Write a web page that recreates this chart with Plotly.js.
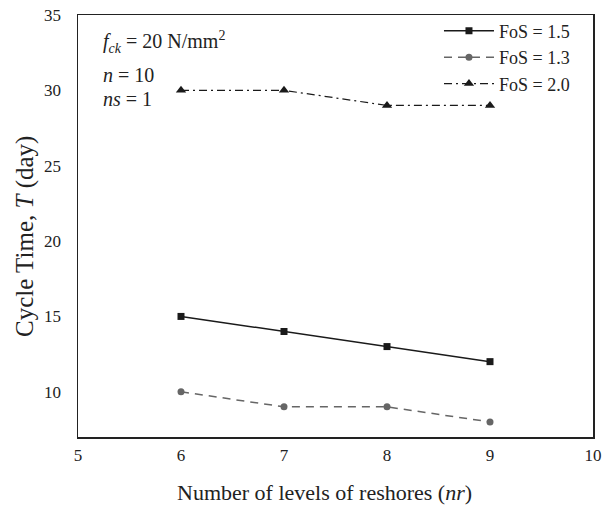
<!DOCTYPE html>
<html>
<head>
<meta charset="utf-8">
<script src="https://cdn.plot.ly/plotly-3.0.1.min.js"></script>
<style>html,body{margin:0;padding:0;background:#fff;}#chart{width:602px;height:513px;}</style>
</head>
<body>
<div id="chart"></div>
<script>
const levels = [6, 7, 8, 9];
const fos15 = [15, 14, 13, 12];
const fos13 = [10, 9, 9, 8];
const fos20 = [30, 30, 29, 29];
const seriesNames = ["FoS = 1.5", "FoS = 1.3", "FoS = 2.0"];

const font = "Liberation Serif, Times New Roman, serif";
const traces = [
  {x: levels, y: fos15, name: seriesNames[0], mode: "lines+markers",
   line: {color: "#1a1a1a", width: 1.5, dash: "solid"},
   marker: {symbol: "square", size: 7, color: "#1a1a1a"}},
  {x: levels, y: fos13, name: seriesNames[1], mode: "lines+markers",
   line: {color: "#666666", width: 1.5, dash: "8px,6px"},
   marker: {symbol: "circle", size: 7, color: "#666666"}},
  {x: levels, y: fos20, name: seriesNames[2], mode: "lines+markers",
   line: {color: "#1a1a1a", width: 1.2, dash: "8px,4px,2px,4px"},
   marker: {symbol: "triangle-up", size: 9, color: "#1a1a1a"}}
];

const layout = {
  width: 602, height: 513,
  margin: {l: 78, r: 9, t: 5, b: 76},
  paper_bgcolor: "#fff", plot_bgcolor: "#fff",
  font: {family: font, color: "#222", size: 16},
  showlegend: true,
  legend: {x: 0.965, y: 0.9825, xanchor: "right", yanchor: "top",
           bgcolor: "rgba(0,0,0,0)", font: {family: font, size: 18, color: "#222"},
           tracegroupgap: 0, itemwidth: 50},
  xaxis: {range: [5, 10], dtick: 1, tick0: 5, showgrid: false, zeroline: false,
          showline: true, linecolor: "#222", linewidth: 1.5, mirror: true,
          ticks: "outside", ticklen: 2, tickcolor: "rgba(0,0,0,0)",
          tickfont: {family: font, size: 17, color: "#222"}},
  yaxis: {range: [7, 35], dtick: 5, tick0: 0, domain: [0, 0.97685], showgrid: false, zeroline: false,
          showline: true, linecolor: "#222", linewidth: 1.5, mirror: true,
          ticks: "outside", ticklen: 12, tickcolor: "rgba(0,0,0,0)",
          tickfont: {family: font, size: 17, color: "#222"}},
  annotations: [
    {xref: "paper", yref: "paper", x: 0.478, y: -0.1296, xanchor: "center", yanchor: "middle", showarrow: false,
     text: "Number of levels of reshores (<i>nr</i>)", font: {family: font, size: 22, color: "#222"}},
    {xref: "paper", yref: "paper", x: -0.1029, y: 0.463, xanchor: "center", yanchor: "middle", showarrow: false,
     textangle: -90, text: "Cycle Time, <i>T</i> (day)", font: {family: font, size: 25, color: "#222"}},
    {xref: "paper", yref: "paper", x: 0.045, y: 0.9134, xanchor: "left", yanchor: "middle", showarrow: false,
     text: "<i>f</i><sub><i>ck</i></sub> = 20 N/mm<sup>2</sup>", font: {family: font, size: 20, color: "#222"}},
    {xref: "paper", yref: "paper", x: 0.045, y: 0.8382, xanchor: "left", yanchor: "middle", showarrow: false,
     text: "<i>n</i> = 10", font: {family: font, size: 20, color: "#222"}},
    {xref: "paper", yref: "paper", x: 0.045, y: 0.7815, xanchor: "left", yanchor: "middle", showarrow: false,
     text: "<i>ns</i> = 1", font: {family: font, size: 20, color: "#222"}}
  ]
};

Plotly.newPlot("chart", traces, layout, {displayModeBar: false, staticPlot: true});
</script>
</body>
</html>
